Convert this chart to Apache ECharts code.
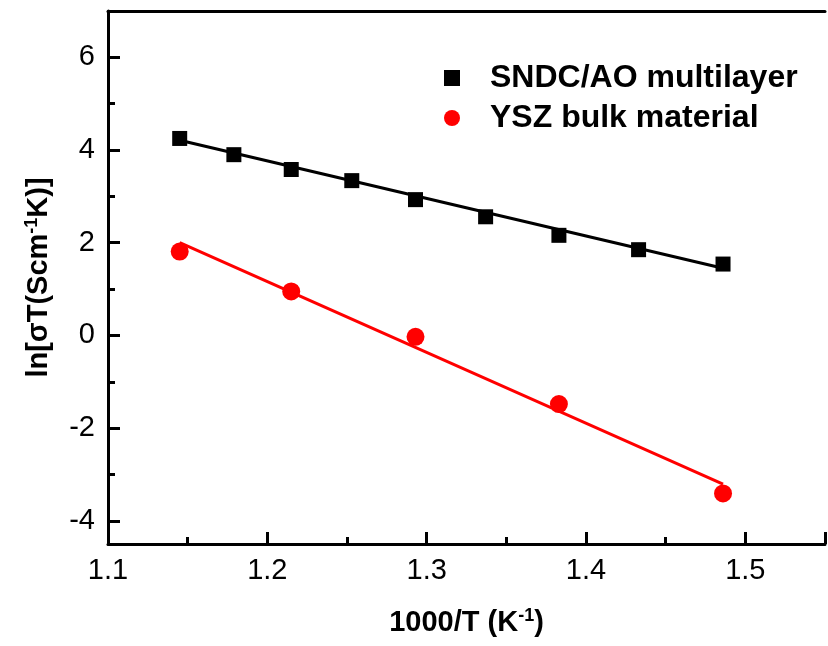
<!DOCTYPE html>
<html>
<head>
<meta charset="utf-8">
<script src="https://cdn.jsdelivr.net/npm/echarts@6/dist/echarts.min.js"></script>
<style>
html,body{margin:0;padding:0;background:#ffffff;}
#chart{width:828px;height:646px;}
</style>
</head>
<body>
<div id="chart"></div>
<script>
// ---- data ----
var seriesNames = ['SNDC/AO multilayer', 'YSZ bulk material'];
var xSNDC = [1.145, 1.179, 1.215, 1.253, 1.293, 1.337, 1.383, 1.433, 1.486];
var ySNDC = [4.25, 3.90, 3.58, 3.34, 2.93, 2.56, 2.16, 1.85, 1.54];
var xYSZ = [1.145, 1.215, 1.293, 1.383, 1.486];
var yYSZ = [1.81, 0.95, -0.03, -1.48, -3.41];
// fitted lines (end points)
var fitX = [1.145, 1.486];
var fitSNDC = [4.21, 1.45];
var fitYSZ = [2.00, -3.21];
var xTicks = ['1.1', '1.2', '1.3', '1.4', '1.5'];
var yTicks = [-4, -2, 0, 2, 4, 6];
var yMinorTicks = [-3, -1, 1, 3, 5];

function pairs(xs, ys) { return xs.map(function (x, i) { return [x, ys[i]]; }); }

var FONT = '"Liberation Sans", Arial, Helvetica, sans-serif';
var chart = echarts.init(document.getElementById('chart'), null, {renderer: 'canvas'});

var nameRich = {
  b: {fontFamily: FONT, fontWeight: 'bold', fontSize: 29, color: '#000'},
  sup: {fontFamily: FONT, fontWeight: 'bold', fontSize: 18, color: '#000', verticalAlign: 'top', padding: [0, 0, 13, 0]}
};

var option = {
  backgroundColor: '#ffffff',
  animation: false,
  grid: {left: 108, top: 11, width: 727, height: 533, containLabel: false},
  legend: {
    orient: 'vertical',
    left: 444,
    top: 62,
    padding: 0,
    itemGap: 8,
    itemWidth: 16,
    itemHeight: 16,
    data: [
      {name: seriesNames[0], icon: 'rect'},
      {name: seriesNames[1], icon: 'circle'}
    ],
    textStyle: {fontFamily: FONT, fontWeight: 'bold', fontSize: 32, color: '#000', padding: [0, 0, 0, 25]}
  },
  xAxis: [{
    type: 'value',
    min: 1.1, max: 1.55, interval: 0.1,
    position: 'bottom',
    name: '{b|1000/T (K}{sup|-1}{b|)}',
    nameLocation: 'middle',
    nameGap: 63,
    nameTextStyle: {rich: nameRich},
    axisLine: {show: true, onZero: false, lineStyle: {color: '#000', width: 3}},
    axisTick: {show: true, inside: true, length: 12, lineStyle: {color: '#000', width: 3}},
    minorTick: {show: true, splitNumber: 2, length: 7, lineStyle: {color: '#000', width: 3}},
    axisLabel: {
      fontFamily: FONT, fontSize: 29, color: '#000', margin: 12,
      formatter: function (v) {
        var s = (Math.round(v * 10) / 10).toFixed(1);
        return xTicks.indexOf(s) >= 0 ? s : '';
      }
    },
    splitLine: {show: false}
  }, {
    type: 'value',
    min: 1.1, max: 1.55,
    position: 'top',
    axisLine: {show: true, onZero: false, lineStyle: {color: '#000', width: 3}},
    axisTick: {show: false},
    axisLabel: {show: false},
    splitLine: {show: false}
  }],
  yAxis: [{
    type: 'value',
    min: -4.5, max: 7,
    position: 'left',
    name: '{b|ln[σT(Scm}{sup|-1}{b|K)]}',
    nameLocation: 'middle',
    nameRotate: 90,
    nameGap: 54,
    nameTextStyle: {rich: nameRich},
    axisLine: {show: true, onZero: false, lineStyle: {color: '#000', width: 3}},
    axisTick: {show: true, inside: true, length: 12, customValues: yTicks, lineStyle: {color: '#000', width: 3}},
    axisLabel: {
      fontFamily: FONT, fontSize: 29, color: '#000', margin: 13,
      customValues: yTicks,
      formatter: function (v) { return String(Math.round(v)); }
    },
    splitLine: {show: false}
  }, {
    type: 'value',
    min: -4.5, max: 7,
    position: 'left',
    offset: 0,
    axisLine: {show: false},
    axisTick: {show: true, inside: true, length: 7, customValues: yMinorTicks, lineStyle: {color: '#000', width: 3}},
    axisLabel: {show: false},
    splitLine: {show: false}
  }],
  series: [
    {
      name: 'SNDC fit', type: 'line', data: pairs(fitX, fitSNDC), showSymbol: false, symbol: 'none',
      lineStyle: {color: '#000', width: 3}, z: 2, silent: true
    },
    {
      name: 'YSZ fit', type: 'line', data: pairs(fitX, fitYSZ), showSymbol: false, symbol: 'none',
      lineStyle: {color: '#ff0000', width: 3}, z: 2, silent: true
    },
    {
      name: seriesNames[0], type: 'scatter', data: pairs(xSNDC, ySNDC),
      symbol: 'rect', symbolSize: 15, itemStyle: {color: '#000', opacity: 1}, z: 5
    },
    {
      name: seriesNames[1], type: 'scatter', data: pairs(xYSZ, yYSZ),
      symbol: 'circle', symbolSize: 18, itemStyle: {color: '#ff0000', opacity: 1}, z: 5
    }
  ]
};
chart.setOption(option);
</script>
</body>
</html>
